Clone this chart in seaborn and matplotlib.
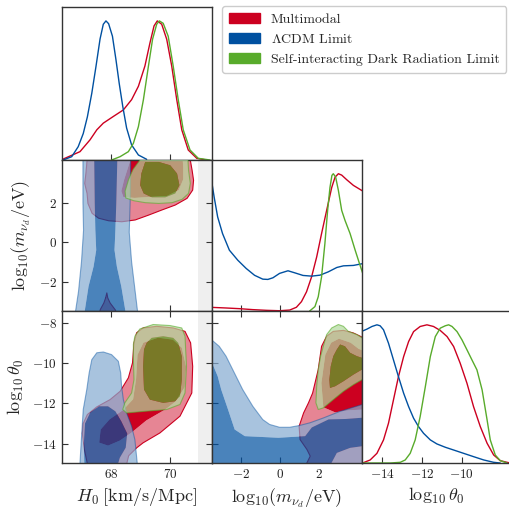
import numpy as np
import pandas as pd
import matplotlib
matplotlib.use("Agg")
import matplotlib.pyplot as plt
from matplotlib.patches import Patch, PathPatch
from matplotlib.path import Path
import seaborn as sns

# ---------------- data ----------------
models = ["Multimodal", r"$\Lambda$CDM Limit", "Self-interacting Dark Radiation Limit"]

# 1D marginal of H0
h0_red_x = [66.15, 66.36, 66.95, 67.29, 67.52, 67.74, 68.08, 68.42, 68.70, 68.93, 69.15, 69.32, 69.46, 69.57, 69.72, 69.89, 70.06, 70.23, 70.40, 70.62, 70.91, 71.24]
h0_red_p = [0.0, 0.005, 0.06, 0.145, 0.217, 0.265, 0.313, 0.36, 0.434, 0.53, 0.675, 0.84, 0.964, 1.0, 0.976, 0.868, 0.675, 0.434, 0.217, 0.072, 0.012, 0.0]
h0_blue_x = [66.38, 66.67, 66.89, 67.06, 67.20, 67.35, 67.49, 67.63, 67.74, 67.83, 67.92, 68.05, 68.17, 68.28, 68.40, 68.53, 68.70, 68.93, 69.21]
h0_blue_p = [0.0, 0.024, 0.096, 0.19, 0.31, 0.48, 0.67, 0.87, 0.976, 1.0, 0.98, 0.89, 0.72, 0.55, 0.385, 0.23, 0.108, 0.036, 0.005]
h0_green_x = [68.02, 68.31, 68.59, 68.76, 68.93, 69.10, 69.27, 69.41, 69.55, 69.64, 69.77, 69.94, 70.11, 70.28, 70.45, 70.68, 70.96, 71.36]
h0_green_p = [0.0, 0.024, 0.06, 0.12, 0.24, 0.434, 0.675, 0.868, 0.976, 1.0, 0.983, 0.89, 0.675, 0.434, 0.217, 0.072, 0.012, 0.0]

# 1D marginal of log10(m_nu_d / eV)
m_red_x = [-3.6, -2.79, -2.10, -1.41, -0.72, -0.04, 0.48, 0.82, 1.08, 1.34, 1.60, 1.86, 2.11, 2.37, 2.63, 2.80, 2.97, 3.14, 3.40, 3.74, 4.25]
m_red_p = [0.027, 0.022, 0.017, 0.01, 0.005, 0.002, 0.007, 0.027, 0.068, 0.14, 0.249, 0.394, 0.564, 0.733, 0.90, 0.975, 1.0, 0.99, 0.956, 0.915, 0.871]
m_blue_x = [-3.6, -3.39, -3.21, -2.96, -2.61, -2.18, -1.75, -1.32, -0.90, -0.64, -0.38, -0.04, 0.39, 0.74, 1.16, 1.60, 2.03, 2.45, 2.89, 3.23, 3.74, 4.25]
m_blue_p = [1.02, 0.83, 0.685, 0.564, 0.443, 0.37, 0.31, 0.26, 0.232, 0.23, 0.242, 0.274, 0.293, 0.278, 0.259, 0.254, 0.261, 0.285, 0.317, 0.329, 0.332, 0.346]
m_green_x = [1.50, 1.77, 1.94, 2.11, 2.28, 2.42, 2.54, 2.64, 2.71, 2.83, 2.97, 3.14, 3.31, 3.57, 3.83, 4.05, 4.25]
m_green_p = [0.0, 0.032, 0.104, 0.249, 0.491, 0.733, 0.90, 0.988, 1.0, 0.976, 0.879, 0.733, 0.66, 0.564, 0.443, 0.346, 0.26]

# 1D marginal of log10(theta_0)
th_red_x = [-14.98, -14.60, -14.26, -13.93, -13.68, -13.43, -13.18, -12.92, -12.67, -12.42, -12.09, -11.75, -11.42, -11.08, -10.74, -10.41, -10.08, -9.74, -9.41, -9.07, -8.73, -8.40, -8.07, -7.73, -7.56]
th_red_p = [0.0, 0.022, 0.07, 0.167, 0.288, 0.457, 0.625, 0.77, 0.879, 0.951, 0.988, 1.0, 0.988, 0.959, 0.915, 0.843, 0.722, 0.577, 0.408, 0.263, 0.143, 0.058, 0.017, 0.005, 0.0]
th_blue_x = [-15.05, -14.76, -14.51, -14.26, -14.10, -13.93, -13.68, -13.43, -13.18, -12.92, -12.67, -12.42, -12.17, -11.92, -11.58, -11.25, -10.83, -10.41, -9.91, -9.41, -8.90, -8.40, -8.07]
th_blue_p = [0.951, 0.969, 0.988, 1.0, 0.993, 0.964, 0.867, 0.746, 0.625, 0.505, 0.408, 0.324, 0.263, 0.215, 0.167, 0.138, 0.114, 0.094, 0.07, 0.046, 0.022, 0.005, 0.0]
th_green_x = [-14.98, -13.59, -13.09, -12.84, -12.59, -12.34, -12.09, -11.83, -11.58, -11.33, -11.08, -10.83, -10.66, -10.49, -10.24, -9.99, -9.74, -9.49, -9.24, -8.98, -8.73, -8.57, -8.32, -8.07, -7.73]
th_green_p = [0.0, 0.0, 0.005, 0.022, 0.07, 0.167, 0.336, 0.553, 0.77, 0.915, 0.976, 0.993, 1.0, 0.988, 0.951, 0.891, 0.819, 0.746, 0.674, 0.529, 0.312, 0.167, 0.058, 0.017, 0.0]

# 2D contours (68% inner / 95% outer), H0 vs log10 m
hm_red_outer = [(67.2, 4.5), (67.19, 4.17), (67.15, 3.49), (67.11, 2.99), (67.19, 2.48), (67.22, 1.97), (67.36, 1.47), (67.58, 1.22), (67.92, 1.09), (68.37, 1.04), (68.82, 1.13), (69.28, 1.38), (69.73, 1.64), (70.18, 1.89), (70.58, 2.23), (70.77, 2.65), (70.80, 3.15), (70.75, 3.66), (70.69, 4.17), (70.67, 4.5)]
hm_red_inner = [(68.72, 4.5), (68.6, 3.9), (68.45, 3.2), (68.35, 2.6), (68.42, 2.3), (68.8, 2.25), (69.3, 2.3), (69.9, 2.35), (70.3, 2.65), (70.45, 3.2), (70.45, 3.8), (70.42, 4.5)]
hm_red_tail = [(67.86, -2.58), (67.89, -2.83), (67.97, -3.09), (68.15, -3.45), (68.22, -3.8), (67.58, -3.8), (67.64, -3.42), (67.76, -3.09), (67.82, -2.83)]
hm_blue_outer = [(67.05, 4.5), (67.05, 2.0), (67.07, 0.6), (67.0, -1.0), (66.9, -2.5), (66.8, -3.5), (66.75, -3.8), (68.95, -3.8), (68.9, -3.5), (68.78, -2.0), (68.7, -1.0), (68.62, 0.5), (68.65, 2.0), (68.67, 4.5)]
hm_blue_inner = [(67.43, 4.5), (67.45, 2.0), (67.47, 0.6), (67.50, -0.4), (67.41, -1.24), (67.24, -2.25), (67.11, -3.5), (67.08, -3.7), (68.52, -3.7), (68.49, -3.5), (68.35, -2.25), (68.2, -1.24), (68.12, -0.4), (68.15, 0.6), (68.18, 2.0), (68.22, 4.5)]
hm_green_outer = [(69.0, 4.5), (68.98, 4.17), (68.75, 3.7), (68.6, 3.2), (68.48, 2.6), (68.5, 2.25), (68.77, 2.11), (69.16, 2.01), (69.62, 1.97), (70.07, 2.01), (70.41, 2.18), (70.63, 2.48), (70.69, 2.99), (70.63, 3.66), (70.61, 4.17), (70.6, 4.5)]
hm_green_inner = [(69.16, 4.08), (69.03, 3.49), (68.99, 2.90), (69.11, 2.48), (69.39, 2.28), (69.84, 2.28), (70.18, 2.48), (70.32, 2.90), (70.24, 3.49), (70.01, 3.91), (69.62, 4.08)]

# H0 vs log10 theta0
ht_red_outer = [(67.23, -15.2), (67.1, -14.3), (67.03, -13.5), (67.06, -13.0), (67.2, -12.56), (67.52, -12.18), (67.97, -11.82), (68.31, -11.41), (68.59, -10.74), (68.73, -10.0), (68.78, -9.01), (68.87, -8.51), (69.09, -8.27), (69.55, -8.19), (70.11, -8.27), (70.51, -8.44), (70.70, -9.01), (70.77, -10.17), (70.74, -11.49), (70.34, -12.64), (69.66, -13.47), (69.09, -13.96), (68.87, -14.21), (68.6, -14.6), (68.5, -15.2)]
ht_red_inner = [(67.6, -13.95), (67.65, -13.3), (67.95, -12.8), (68.4, -12.35), (68.75, -11.8), (68.85, -10.8), (68.9, -9.6), (69.1, -9.0), (69.6, -8.75), (70.1, -8.85), (70.4, -9.25), (70.55, -10.2), (70.5, -11.2), (70.2, -11.9), (69.85, -12.3), (69.2, -12.85), (68.7, -13.45), (68.3, -13.85), (67.9, -14.1)]
ht_blue_outer = [(66.93, -15.2), (66.95, -14.95), (67.01, -13.47), (67.06, -12.31), (67.18, -11.32), (67.26, -10.50), (67.35, -9.84), (67.52, -9.50), (67.74, -9.46), (68.02, -9.59), (68.25, -9.92), (68.33, -10.50), (68.36, -11.16), (68.42, -11.82), (68.53, -12.48), (68.70, -13.14), (68.81, -13.80), (68.89, -14.95), (68.9, -15.2)]
ht_blue_inner = [(67.1, -15.2), (67.08, -14.0), (67.12, -13.0), (67.3, -12.45), (67.6, -12.15), (67.9, -12.15), (68.15, -12.4), (68.35, -12.9), (68.55, -13.5), (68.5, -14.2), (68.3, -14.7), (68.2, -15.2)]
ht_green_outer = [(68.76, -9.09), (68.81, -8.68), (68.98, -8.32), (69.43, -8.10), (70.0, -8.15), (70.40, -8.27), (70.51, -8.68), (70.56, -10.17), (70.51, -11.49), (70.34, -12.06), (69.89, -12.31), (69.21, -12.39), (68.53, -12.48), (68.40, -12.31), (68.47, -11.98), (68.70, -11.49), (68.78, -10.83), (68.76, -9.84)]
ht_green_inner = [(69.21, -9.01), (69.38, -8.76), (69.77, -8.68), (70.11, -8.76), (70.28, -9.01), (70.40, -9.67), (70.40, -10.83), (70.34, -11.65), (70.17, -11.90), (69.77, -11.98), (69.32, -11.82), (69.12, -11.32), (69.09, -10.17), (69.12, -9.34)]

# log10 m vs log10 theta0
mt_red_outer = [(1.30, -15.2), (1.36, -14.95), (1.53, -14.62), (1.36, -14.29), (1.01, -13.80), (0.96, -13.14), (1.19, -12.48), (1.44, -11.98), (1.65, -11.5), (1.94, -10.33), (2.11, -9.18), (2.37, -8.68), (2.71, -8.44), (3.23, -8.39), (3.74, -8.52), (4.09, -8.68), (4.5, -8.9), (4.5, -15.2)]
mt_red_inner = [(2.2, -12.2), (2.1, -11.0), (2.3, -9.6), (2.6, -9.0), (3.0, -8.8), (3.6, -9.0), (4.0, -9.3), (4.5, -9.5), (4.5, -12.3), (3.5, -12.35), (2.8, -12.45)]
mt_blue_outer = [(-3.9, -8.8), (-3.53, -8.85), (-3.13, -9.18), (-2.78, -9.67), (-2.44, -10.33), (-1.93, -11.32), (-1.41, -12.15), (-0.90, -12.81), (-0.55, -13.05), (-0.04, -13.19), (0.48, -13.19), (0.99, -13.10), (1.51, -12.97), (2.20, -12.73), (3.06, -12.40), (4.21, -12.06), (4.5, -11.95), (4.5, -15.2), (-3.9, -15.2)]
mt_blue_inner = [(-3.8, -9.92), (-3.53, -9.92), (-3.21, -10.66), (-3.03, -11.32), (-2.68, -12.31), (-2.34, -13.30), (-1.82, -13.63), (-0.10, -13.71), (1.27, -13.63), (1.61, -13.2), (2.47, -12.8), (3.33, -12.78), (4.02, -12.73), (4.4, -12.7), (4.4, -14.1), (3.57, -14.21), (2.89, -14.46), (2.54, -15.1), (-3.8, -15.1)]
mt_green_outer = [(2.20, -9.18), (2.37, -8.60), (2.63, -8.27), (2.97, -8.10), (3.23, -8.19), (3.48, -8.44), (3.92, -8.60), (4.18, -8.76), (4.5, -8.9), (4.5, -10.7), (4.18, -10.83), (3.74, -11.08), (3.23, -11.41), (2.71, -11.82), (2.20, -12.23), (1.94, -12.31), (1.82, -11.98), (1.86, -11.16), (1.94, -10.33), (2.06, -9.67)]
mt_green_inner = [(2.89, -9.34), (3.06, -9.09), (3.31, -9.18), (3.57, -9.50), (3.92, -9.67), (4.18, -9.75), (4.5, -9.8), (4.5, -10.3), (4.18, -10.33), (3.74, -10.58), (3.23, -10.91), (2.80, -11.16), (2.54, -11.24), (2.51, -10.83), (2.58, -10.17), (2.71, -9.67)]

h0_ticks = [68, 70]
m_ticks = [-2, 0, 2]
th_yticks = [-14, -12, -10, -8]
th_xticks = [-14, -12, -10]
h0_lim = (66.34, 71.425)
m_lim = (-3.5, 4.18)
th_ylim = (-14.96, -7.43)
th_xlim = (-15.01, -7.58)
prior_edge = (70.96, 71.6)

label_m = r"$\mathrm{log}_{10}(m_{\nu_d}/\mathrm{eV})$"
label_th = r"$\mathrm{log}_{10}\,\theta_0$"
label_h0 = r"$H_0\;[\mathrm{km/s/Mpc}]$"

# ---------------- style ----------------
RED, RED_L = "#cc0020", "#e68594"
BLUE, BLUE_L = "#0050a0", "#85abd1"
GREEN, GREEN_L = "#58ab2b", "#b2d99d"
palette = dict(zip(models, [RED, BLUE, GREEN]))

sns.set_style("ticks")
plt.rcParams["font.family"] = ["cmr10", "DejaVu Serif"]
plt.rcParams["mathtext.fontset"] = "cm"
plt.rcParams["axes.formatter.use_mathtext"] = True
plt.rcParams["axes.unicode_minus"] = True

W, H = 510, 512
fig = plt.figure(figsize=(W / 100, H / 100), dpi=100)
cols = [(62, 150), (212, 150), (362, 148)]
rows = [(7, 153), (160, 151), (311, 152)]


def add_ax(c, r):
    x0, w = cols[c]
    y0, h = rows[r]
    return fig.add_axes([x0 / W, 1 - (y0 + h) / H, w / W, h / H])


def style(ax, diag=False):
    for s in ax.spines.values():
        s.set_color("#333333")
        s.set_linewidth(1.0)
    if diag:
        ax.tick_params(axis="x", direction="in", length=4, width=0.8, colors="#333333",
                       labelsize=9.5, top=False, bottom=True)
        ax.tick_params(axis="y", left=False, right=False, labelleft=False)
        ax.set_ylim(0, 1.1)
    else:
        ax.tick_params(direction="in", length=4, width=0.8, colors="#333333",
                       labelsize=9.5, top=True, right=True)
    ax.tick_params(labelcolor="#222222")


def oriented(pts, ccw):
    p = np.asarray(pts, float)
    area = 0.5 * np.sum(p[:, 0] * np.roll(p[:, 1], -1) - np.roll(p[:, 0], -1) * p[:, 1])
    if (area > 0) != ccw:
        p = p[::-1]
    return p


def filled(ax, outer, inner, light, dark, alpha, edge_alpha, z):
    o = oriented(outer, True)
    verts = list(o) + [o[0]]
    codes = [Path.MOVETO] + [Path.LINETO] * (len(o) - 1) + [Path.CLOSEPOLY]
    if inner is not None:
        i = oriented(inner, False)
        verts += list(i) + [i[0]]
        codes += [Path.MOVETO] + [Path.LINETO] * (len(i) - 1) + [Path.CLOSEPOLY]
        ii = np.asarray(inner, float)
        ax.fill(ii[:, 0], ii[:, 1], color=dark, alpha=alpha, lw=0, zorder=z + 0.1)
    ax.add_patch(PathPatch(Path(verts, codes), facecolor=light, edgecolor="none",
                           alpha=alpha, zorder=z))
    oc = np.vstack([o, o[:1]])
    ax.plot(oc[:, 0], oc[:, 1], color=dark, lw=0.8, alpha=edge_alpha, zorder=z + 0.2)


def marginal(ax, xs, ps):
    df = pd.concat([pd.DataFrame({"x": x, "p": p, "model": m})
                    for m, x, p in zip(models, xs, ps)], ignore_index=True)
    sns.lineplot(data=df, x="x", y="p", hue="model", palette=palette, sort=False,
                 estimator=None, legend=False, lw=1.0, ax=ax)
    ax.set_xlabel("")
    ax.set_ylabel("")


# ---------------- panels ----------------
ax11 = add_ax(0, 0)
marginal(ax11, [h0_red_x, h0_blue_x, h0_green_x], [h0_red_p, h0_blue_p, h0_green_p])
style(ax11, diag=True)
ax11.set_xlim(*h0_lim)
ax11.set_xticks(h0_ticks)
ax11.tick_params(labelbottom=False)

ax21 = add_ax(0, 1)
ax21.axvspan(*prior_edge, color="#efefef", lw=0, zorder=0)
filled(ax21, hm_red_outer, hm_red_inner, RED_L, RED, 1.0, 1.0, 1)
filled(ax21, hm_red_tail, None, RED_L, RED, 1.0, 1.0, 1)
filled(ax21, hm_blue_outer, hm_blue_inner, BLUE_L, BLUE, 0.71, 0.45, 2)
filled(ax21, hm_green_outer, hm_green_inner, GREEN_L, GREEN, 0.71, 0.6, 3)
style(ax21)
ax21.set_xlim(*h0_lim)
ax21.set_ylim(*m_lim)
ax21.set_xticks(h0_ticks)
ax21.set_yticks(m_ticks)
ax21.tick_params(labelbottom=False)
ax21.set_ylabel(label_m, fontsize=13, labelpad=4)

ax22 = add_ax(1, 1)
marginal(ax22, [m_red_x, m_blue_x, m_green_x], [m_red_p, m_blue_p, m_green_p])
style(ax22, diag=True)
ax22.set_xlim(*m_lim)
ax22.set_xticks(m_ticks)
ax22.tick_params(labelbottom=False)

ax31 = add_ax(0, 2)
ax31.axvspan(*prior_edge, color="#efefef", lw=0, zorder=0)
filled(ax31, ht_red_outer, ht_red_inner, RED_L, RED, 1.0, 1.0, 1)
filled(ax31, ht_blue_outer, ht_blue_inner, BLUE_L, BLUE, 0.71, 0.45, 2)
filled(ax31, ht_green_outer, ht_green_inner, GREEN_L, GREEN, 0.71, 0.6, 3)
style(ax31)
ax31.set_xlim(*h0_lim)
ax31.set_ylim(*th_ylim)
ax31.set_xticks(h0_ticks)
ax31.set_yticks(th_yticks)
ax31.set_xlabel(label_h0, fontsize=13, labelpad=4)
ax31.set_ylabel(label_th, fontsize=13, labelpad=4)

ax32 = add_ax(1, 2)
filled(ax32, mt_red_outer, mt_red_inner, RED_L, RED, 1.0, 1.0, 1)
filled(ax32, mt_blue_outer, mt_blue_inner, BLUE_L, BLUE, 0.71, 0.45, 2)
filled(ax32, mt_green_outer, mt_green_inner, GREEN_L, GREEN, 0.71, 0.6, 3)
style(ax32)
ax32.set_xlim(*m_lim)
ax32.set_ylim(*th_ylim)
ax32.set_xticks(m_ticks)
ax32.set_yticks(th_yticks)
ax32.tick_params(labelleft=False)
ax32.set_xlabel(label_m, fontsize=13, labelpad=4)

ax33 = add_ax(2, 2)
marginal(ax33, [th_red_x, th_blue_x, th_green_x], [th_red_p, th_blue_p, th_green_p])
style(ax33, diag=True)
ax33.set_xlim(*th_xlim)
ax33.set_xticks(th_xticks)
ax33.set_xlabel(label_th, fontsize=13, labelpad=4)

for ax in (ax11, ax21, ax22, ax31, ax32, ax33):
    ax.set_facecolor("white")

handles = [Patch(facecolor=palette[m], edgecolor=palette[m]) for m in models]
fig.legend(handles, models, loc="upper left", bbox_to_anchor=(222 / W, 1 - 6 / H),
           fontsize=10, frameon=True, fancybox=True, framealpha=1, edgecolor="#cccccc",
           handlelength=2.2, handleheight=0.75, labelspacing=0.5, borderpad=0.5,
           handletextpad=0.8, borderaxespad=0)

fig.savefig("out.png", dpi=100)
